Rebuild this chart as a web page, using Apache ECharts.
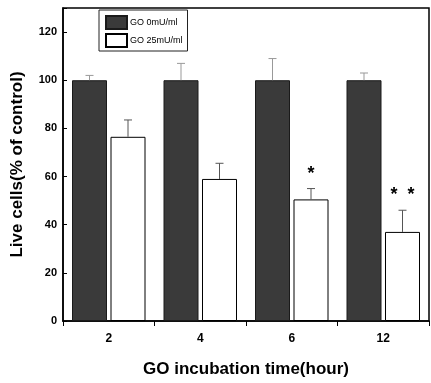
<!DOCTYPE html>
<html>
<head>
<meta charset="utf-8">
<script src="https://cdn.jsdelivr.net/npm/echarts@6/dist/echarts.min.js"></script>
<style>
html, body { margin: 0; padding: 0; background: #fff; }
#main { width: 431px; height: 383px; }
</style>
</head>
<body>
<div id="main"></div>
<script>
// 数据
var categories = ['2', '4', '6', '12'];
var ctrlValues = [100, 100, 100, 100];
var ctrlErrors = [2, 7, 9, 3];
var goValues = [76.5, 59, 50.5, 37];
var goErrors = [7, 6.5, 4.5, 9];
var sigMarks = ['', '', '*', '*  *'];
var yTicks = [0, 20, 40, 60, 80, 100, 120];

var FONT = '"Liberation Sans Narrow", "Liberation Sans", Arial, sans-serif';

// 误差线：series 0 为深色柱，series 1 为白色柱
function errorSeries(values, errors, seriesIdx) {
    return {
        type: 'custom',
        z: 10,
        silent: true,
        data: values.map(function (v, i) { return [i, v, v + errors[i]]; }),
        renderItem: function (params, api) {
            var i = api.value(0);
            var lo = api.coord([i, api.value(1)]);
            var hi = api.coord([i, api.value(2)]);
            var barW = 35, gap = 3.5;
            var center = lo[0] + (seriesIdx === 0 ? -(barW + gap) / 2 : (barW + gap) / 2);
            var cap = 4;
            var stroke = seriesIdx === 0 ? '#999' : '#555';
            return {
                type: 'group',
                children: [
                    { type: 'line', shape: { x1: center, y1: lo[1], x2: center, y2: hi[1] }, style: { stroke: stroke, lineWidth: 1 } },
                    { type: 'line', shape: { x1: center - cap, y1: hi[1], x2: center + cap, y2: hi[1] }, style: { stroke: stroke, lineWidth: 1 } }
                ]
            };
        }
    };
}

var myChart = echarts.init(document.getElementById('main'));
var option = {
    backgroundColor: '#fff',
    animation: false,
    grid: { left: 63, right: 2, top: 8, bottom: 60, show: true, borderColor: '#000', borderWidth: 1.5 },
    legend: {
        orient: 'vertical',
        left: 99, top: 10,
        icon: 'rect',
        itemWidth: 21, itemHeight: 13, itemGap: 3,
        padding: [5, 5, 3, 6],
        borderColor: '#222', borderWidth: 1,
        textStyle: { fontFamily: FONT, fontSize: 9, color: '#000', padding: [0, 0, 0, -2] },
        data: ['GO 0mU/ml', 'GO 25mU/ml']
    },
    xAxis: {
        type: 'category',
        data: categories,
        name: 'GO incubation time(hour)',
        nameLocation: 'middle',
        nameGap: 40,
        nameTextStyle: { fontFamily: FONT, fontSize: 17, fontWeight: 'bold', color: '#000' },
        axisLine: { lineStyle: { color: '#000', width: 1.5 } },
        axisTick: { show: true, length: 5, lineStyle: { color: '#000' } },
        axisLabel: { fontFamily: FONT, fontSize: 12, fontWeight: 'bold', color: '#000', margin: 12 }
    },
    yAxis: {
        type: 'value',
        min: 0, max: 130, interval: 20,
        name: 'Live cells(% of control)',
        nameLocation: 'middle',
        nameGap: 37,
        nameTextStyle: { fontFamily: FONT, fontSize: 17, fontWeight: 'bold', color: '#000' },
        splitLine: { show: false },
        axisLine: { show: true, lineStyle: { color: '#000', width: 1.5 } },
        axisTick: { show: true, inside: true, length: 4, lineStyle: { color: '#000' } },
        axisLabel: {
            fontFamily: FONT, fontSize: 11, fontWeight: 'bold', color: '#000', margin: 6,
            formatter: function (v) { return yTicks.indexOf(v) >= 0 ? v : ''; }
        }
    },
    series: [
        {
            name: 'GO 0mU/ml',
            type: 'bar',
            barWidth: 35,
            barGap: '10%',
            data: ctrlValues,
            itemStyle: { color: '#3a3a3a', borderColor: '#1a1a1a', borderWidth: 1 }
        },
        {
            name: 'GO 25mU/ml',
            type: 'bar',
            barWidth: 35,
            data: goValues.map(function (v, i) {
                return { value: v, label: { distance: goErrors[i] * 2.41 + 6 } };
            }),
            itemStyle: { color: '#fff', borderColor: '#000', borderWidth: 1 },
            label: {
                show: true,
                position: 'top',
                fontFamily: FONT, fontSize: 18, fontWeight: 'bold', color: '#000',
                formatter: function (p) { return sigMarks[p.dataIndex]; }
            }
        },
        errorSeries(ctrlValues, ctrlErrors, 0),
        errorSeries(goValues, goErrors, 1)
    ]
};
myChart.setOption(option);
</script>
</body>
</html>
